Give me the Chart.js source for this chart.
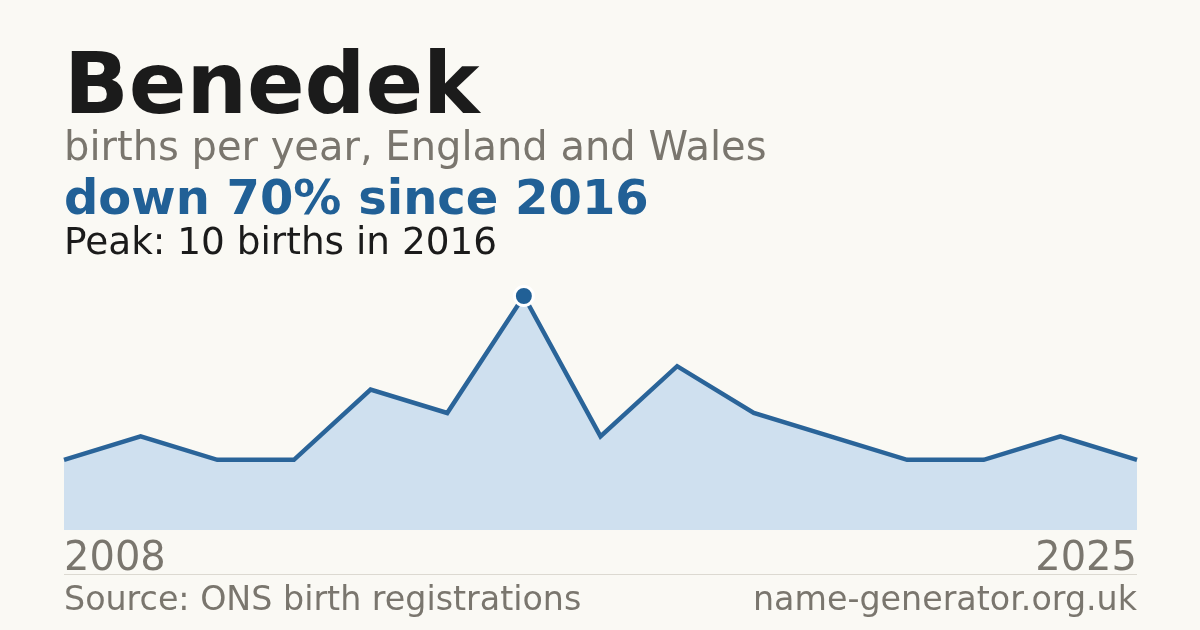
<!DOCTYPE html>
<html>
<head>
<meta charset="utf-8">
<script src="https://cdn.jsdelivr.net/npm/chart.js@4"></script>
<style>
  html, body { margin: 0; padding: 0; }
  body { width: 1200px; height: 630px; background: #faf9f4; position: relative; overflow: hidden; font-family: "DejaVu Sans", sans-serif; }
  .t { position: absolute; white-space: nowrap; line-height: 1; }
  #title { left: 64px; top: 41px; font-size: 85px; font-weight: bold; color: #1b1b1b; }
  #sub { left: 64px; top: 126px; font-size: 40px; color: #7a766e; }
  #change { left: 64px; top: 173px; font-size: 48px; font-weight: bold; color: #216096; }
  #peak { left: 64px; top: 223px; font-size: 37.4px; color: #1b1b1b; }
  #yfirst { left: 64px; top: 536px; font-size: 40px; color: #7a766e; }
  #ylast { right: 63px; top: 536px; font-size: 40px; color: #7a766e; }
  #rule { position: absolute; left: 64px; width: 1073px; top: 574px; height: 1px; background: #dcd9d1; }
  #src { left: 64px; top: 582px; font-size: 33.3px; color: #7a766e; }
  #site { right: 63px; top: 582px; font-size: 33.3px; color: #7a766e; }
  #chart { position: absolute; left: 0; top: 0; }
</style>
</head>
<body>
<canvas id="chart" width="1200" height="630"></canvas>
<div class="t" id="title">Benedek</div>
<div class="t" id="sub">births per year, England and Wales</div>
<div class="t" id="change">down 70% since 2016</div>
<div class="t" id="peak">Peak: 10 births in 2016</div>
<div class="t" id="yfirst"></div>
<div class="t" id="ylast"></div>
<div id="rule"></div>
<div class="t" id="src">Source: ONS birth registrations</div>
<div class="t" id="site">name-generator.org.uk</div>
<script>
// years with recorded births (gaps are years with too few to publish)
var years = ['2008', '2009', '2010', '2011', '2013', '2014', '2016', '2017', '2018', '2019', '2020', '2021', '2022', '2024', '2025'];
var births = [3, 4, 3, 3, 6, 5, 10, 4, 7, 5, 4, 3, 3, 4, 3];

var peakIndex = births.indexOf(Math.max.apply(null, births));

document.getElementById('yfirst').textContent = years[0];
document.getElementById('ylast').textContent = years[years.length - 1];

var ctx = document.getElementById('chart');
var myChart = new Chart(ctx, {
    type: 'line',
    data: {
        labels: years,
        datasets: [{
            data: births,
            borderColor: '#2a6499',
            backgroundColor: '#cfe0ef',
            borderWidth: 4.5,
            fill: 'origin',
            tension: 0,
            clip: false,
            pointRadius: function (c) { return c.dataIndex === peakIndex ? 9.5 : 0; },
            pointBackgroundColor: '#216096',
            pointBorderColor: '#ffffff',
            pointBorderWidth: 3,
            pointHoverRadius: 0
        }]
    },
    options: {
        responsive: false,
        animation: false,
        devicePixelRatio: 1,
        layout: {
            padding: { left: 64, right: 63, top: 296, bottom: 100 }
        },
        scales: {
            x: { display: false, offset: false },
            y: { display: false, min: 0, max: 10 }
        },
        plugins: {
            legend: { display: false },
            tooltip: { enabled: false }
        }
    }
});
</script>
</body>
</html>
